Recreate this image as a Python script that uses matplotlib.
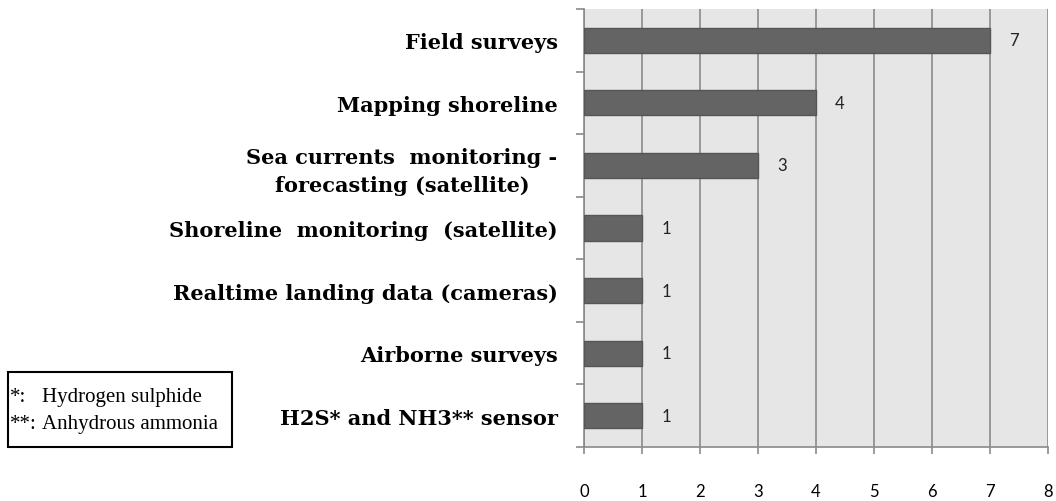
import numpy as np
from matplotlib import pyplot as plt
from matplotlib.patches import Rectangle

categories = ["Field surveys", "Mapping shoreline",
              "Sea currents  monitoring -\nforecasting (satellite)",
              "Shoreline  monitoring  (satellite)",
              "Realtime landing data (cameras)",
              "Airborne surveys", "H2S* and NH3** sensor"]
counts = [7, 4, 3, 1, 1, 1, 1]
xticks = [0, 1, 2, 3, 4, 5, 6, 7, 8]
note_keys = ["*:", "**:"]
note_names = ["Hydrogen sulphide", "Anhydrous ammonia"]

fig = plt.figure(figsize=(10.56, 5.02), dpi=100)
ax = fig.add_axes([0.553, 0.1076, 0.4394, 0.8725])
ax.set_facecolor("#e6e6e6")

y = np.arange(len(categories))
ax.barh(y, counts, height=0.4, color="#646464", edgecolor="#555555", linewidth=1, zorder=3)
for yi, c in zip(y, counts):
    ax.text(c + 0.33, yi, str(c), va="center", ha="left", fontsize=12,
            family="Lato", color="#222222")

ax.set_xlim(0, 8)
ax.set_ylim(len(categories) - 0.5, -0.5)
ax.set_xticks(xticks)
ax.set_xticklabels([str(t) for t in xticks], family="Lato", fontsize=12)
ax.grid(axis="x", color="#8a8a8a", linewidth=1.2, zorder=1)

ax.set_yticks(y)
ax.set_yticklabels(categories, fontsize=15, fontweight="bold", family="DejaVu Serif",
                   linespacing=1.45)
for lab in ax.get_yticklabels():
    lab.set_multialignment("center")
ax.set_yticks(np.arange(len(categories) + 1) - 0.5, minor=True)
ax.tick_params(axis="y", which="major", length=0, pad=19)
ax.tick_params(axis="y", which="minor", length=5.5, color="#8a8a8a", width=1.2)
ax.tick_params(axis="x", length=5, color="#8a8a8a", width=1.2, pad=21)

for s in ["top", "right"]:
    ax.spines[s].set_visible(False)
for s in ["left", "bottom"]:
    ax.spines[s].set_color("#8a8a8a")
    ax.spines[s].set_linewidth(1.2)

# footnote box
fig.patches.append(Rectangle((0.0076, 0.1076), 0.2121, 0.1494, transform=fig.transFigure,
                             facecolor="white", edgecolor="black", linewidth=1.5))
for k, name, yy in zip(note_keys, note_names, [0.2072, 0.1534]):
    fig.text(0.0095, yy, k, fontsize=15, family="Liberation Serif", va="center", ha="left")
    fig.text(0.0395, yy, name, fontsize=15, family="Liberation Serif", va="center", ha="left")

fig.savefig("out.png", dpi=100)
